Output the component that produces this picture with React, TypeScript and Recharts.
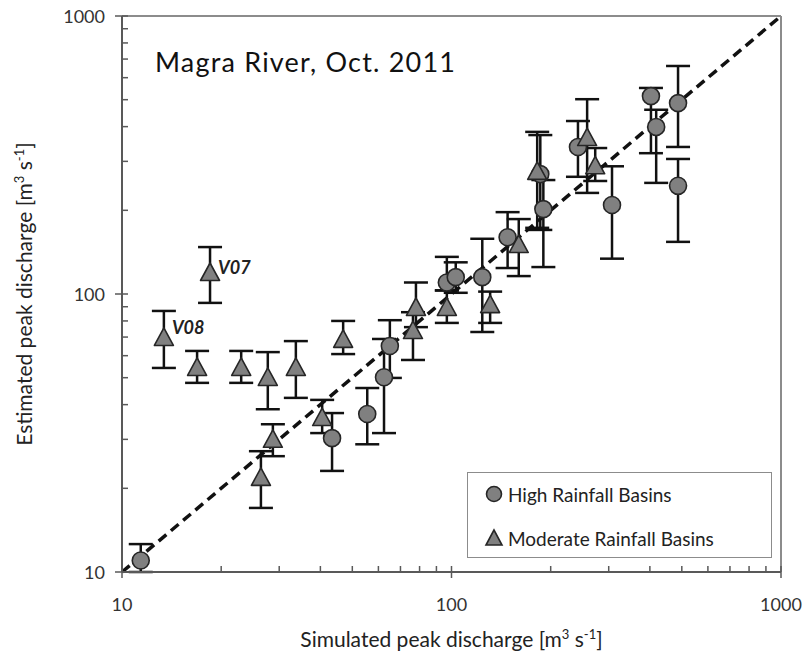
import { ScatterChart, Scatter, XAxis, YAxis, ErrorBar, ReferenceLine, Legend } from "recharts"

// High rainfall basins (circles): simulated, estimated, error-bar low/high
const highSim = [11.4, 43.4, 55.5, 62.4, 65.0, 96.8, 103, 124, 148, 186, 190, 242, 307, 403, 418, 487, 487]
const highEst = [11.0, 30.3, 37.0, 50.2, 65.0, 110, 115, 115, 160, 270, 202, 338, 209, 515, 399, 486, 245]
const highLow = [10.0, 23.1, 28.8, 31.6, 49.9, 103, 101, 73, 124, 170, 125, 264, 134, 321, 251, 338, 154]
const highHigh = [12.6, 37.3, 45.9, 68.9, 80.5, 136, 130, 158, 197, 373, 257, 419, 288, 551, 460, 661, 306]

// Moderate rainfall basins (triangles)
const modSim = [13.4, 16.9, 18.5, 23.0, 26.4, 27.7, 28.7, 33.7, 40.5, 46.9, 76.4, 78.0, 96.8, 131, 160, 182, 258, 273]
const modEst = [69.5, 54.2, 119, 54.2, 21.8, 49.9, 29.9, 54.2, 35.8, 68.4, 73.6, 89.1, 89.1, 91.2, 150, 275, 364, 288]
const modLow = [54.2, 47.9, 92.9, 47.9, 17.0, 38.5, 26.1, 42.3, 31.6, 60.8, 57.9, 76, 78.7, 78.7, 116, 173, 231, 255]
const modHigh = [86.9, 62.4, 147.5, 62.4, 27.2, 61.8, 34.0, 67.7, 41.6, 80.0, 86, 110, 103, 102, 186, 383, 502, 335]
const modTags = ["V08", "", "V07", "", "", "", "", "", "", "", "", "", "", "", "", "", "", ""]

const logTicks = [10, 20, 30, 40, 50, 60, 70, 80, 90, 100, 200, 300, 400, 500, 600, 700, 800, 900, 1000]
const majorTicks = [10, 100, 1000]

const FONT = "Lato, 'Open Sans', sans-serif"

function rows(sim: number[], est: number[], low: number[], high: number[], tags?: string[]) {
  return sim.map((s, i) => ({
    sim: s,
    est: est[i],
    err: [est[i] - low[i], high[i] - est[i]],
    tag: tags ? tags[i] : "",
  }))
}

const highData = rows(highSim, highEst, highLow, highHigh)
const modData = rows(modSim, modEst, modLow, modHigh, modTags)

const tagOffset: Record<string, { dx: number; dy: number }> = {
  V07: { dx: 8, dy: 1 },
  V08: { dx: 8, dy: -4 },
}

const CircleMark = (p: any) => (
  <circle cx={p.cx} cy={p.cy} r={8.5} fill="#808080" stroke="#262626" strokeWidth={1.6} />
)

const TriangleMark = (p: any) => {
  const { cx, cy, payload } = p
  const off = tagOffset[payload?.tag]
  return (
    <g>
      <polygon
        points={`${cx},${cy - 10} ${cx - 9.5},${cy + 7.5} ${cx + 9.5},${cy + 7.5}`}
        fill="#808080"
        stroke="#262626"
        strokeWidth={1.6}
        strokeLinejoin="round"
      />
      {off && (
        <text x={cx + off.dx} y={cy + off.dy} fontFamily={FONT} fontSize={18} fontWeight="bold" fontStyle="italic" fill="#222">
          {payload.tag}
        </text>
      )}
    </g>
  )
}

const XTick = (p: any) => {
  const { x, y, payload } = p
  const major = majorTicks.includes(payload.value)
  return (
    <g>
      <line x1={x} x2={x} y1={major ? y + 6 : y} y2={y - 6} stroke="#595959" strokeWidth={1.5} />
      {major && (
        <text x={x} y={y + 32} textAnchor="middle" dominantBaseline="central" fontFamily={FONT} fontSize={18} fill="#333">
          {payload.value}
        </text>
      )}
    </g>
  )
}

const YTick = (p: any) => {
  const { x, y, payload } = p
  const major = majorTicks.includes(payload.value)
  return (
    <g>
      <line x1={major ? x - 7 : x} x2={x + 6} y1={y} y2={y} stroke="#595959" strokeWidth={1.5} />
      {major && (
        <text x={x - 17} y={y} textAnchor="end" dominantBaseline="central" fontFamily={FONT} fontSize={18} fill="#333">
          {payload.value}
        </text>
      )}
    </g>
  )
}

const unit = (
  <>
    {" [m"}
    <tspan dy={-8} fontSize={13}>3</tspan>
    <tspan dy={8}> s</tspan>
    <tspan dy={-8} fontSize={13}>-1</tspan>
    <tspan dy={8}>]</tspan>
  </>
)

const XTitle = (p: any) => {
  const vb = p.viewBox
  return (
    <text x={vb.x + vb.width / 2} y={vb.y + 75} textAnchor="middle" fontFamily={FONT} fontSize={21} fill="#222">
      Simulated peak discharge{unit}
    </text>
  )
}

const YTitle = (p: any) => {
  const vb = p.viewBox
  const cx = vb.x + 10
  const cy = vb.y + vb.height / 2
  return (
    <text x={cx} y={cy} transform={`rotate(-90 ${cx} ${cy})`} textAnchor="middle" fontFamily={FONT} fontSize={21} fill="#222">
      Estimated peak discharge{unit}
    </text>
  )
}

const LegendBox = (props: any) => {
  const items = props.payload || []
  return (
    <div
      style={{
        position: "relative",
        width: 305,
        height: 86,
        boxSizing: "border-box",
        border: "1px solid #8c8c8c",
        background: "#fff",
        fontFamily: FONT,
        fontSize: 19,
        color: "#222",
      }}
    >
      {items.map((it: any, i: number) => (
        <div key={i} style={{ position: "absolute", left: 16, top: 9 + i * 44, height: 24, display: "flex", alignItems: "center", whiteSpace: "nowrap" }}>
          <svg width={20} height={20} style={{ marginRight: 4 }}>
            {i === 0 ? (
              <circle cx={10} cy={10} r={7.5} fill="#808080" stroke="#262626" strokeWidth={1.6} />
            ) : (
              <polygon points="10,2 2,17 18,17" fill="#808080" stroke="#262626" strokeWidth={1.6} />
            )}
          </svg>
          {it.value}
        </div>
      ))}
    </div>
  )
}

export default function App() {
  return (
    <div style={{ position: "absolute", left: 0, top: 0 }}>
      <ScatterChart width={808} height={662} margin={{ top: 16, right: 27, bottom: 30, left: 22 }}>
        <XAxis
          dataKey="sim"
          type="number"
          scale="log"
          domain={[10, 1000]}
          allowDataOverflow
          ticks={logTicks}
          interval={0}
          tickSize={0}
          tickMargin={0}
          tick={<XTick />}
          height={60}
          stroke="#595959"
          strokeWidth={2}
          label={{ content: XTitle }}
        />
        <YAxis
          dataKey="est"
          type="number"
          scale="log"
          domain={[10, 1000]}
          allowDataOverflow
          ticks={logTicks}
          interval={0}
          tickSize={0}
          tickMargin={0}
          tick={<YTick />}
          width={100}
          stroke="#595959"
          strokeWidth={2}
          label={{ content: YTitle }}
        />
        <ReferenceLine y={1000} stroke="#8c8c8c" strokeWidth={2} />
        <ReferenceLine x={1000} stroke="#8c8c8c" strokeWidth={2} />
        <ReferenceLine
          segment={[{ x: 10, y: 10 }, { x: 1000, y: 1000 }]}
          stroke="#111"
          strokeWidth={3.5}
          strokeDasharray="10 6"
        />
        <Scatter name="High Rainfall Basins" data={highData} shape={CircleMark} isAnimationActive={false}>
          <ErrorBar dataKey="err" direction="y" width={12} strokeWidth={2.5} stroke="#111" isAnimationActive={false} />
        </Scatter>
        <Scatter name="Moderate Rainfall Basins" data={modData} shape={TriangleMark} isAnimationActive={false}>
          <ErrorBar dataKey="err" direction="y" width={12} strokeWidth={2.5} stroke="#111" isAnimationActive={false} />
        </Scatter>
        <Legend
          layout="vertical"
          align="center"
          verticalAlign="middle"
          content={LegendBox}
          wrapperStyle={{ left: 467, top: 472, width: 305, height: 86 }}
        />
        <text x={155} y={72} fontFamily={FONT} fontSize={27} fill="#111" textLength={300}>
          Magra River, Oct. 2011
        </text>
      </ScatterChart>
    </div>
  )
}
